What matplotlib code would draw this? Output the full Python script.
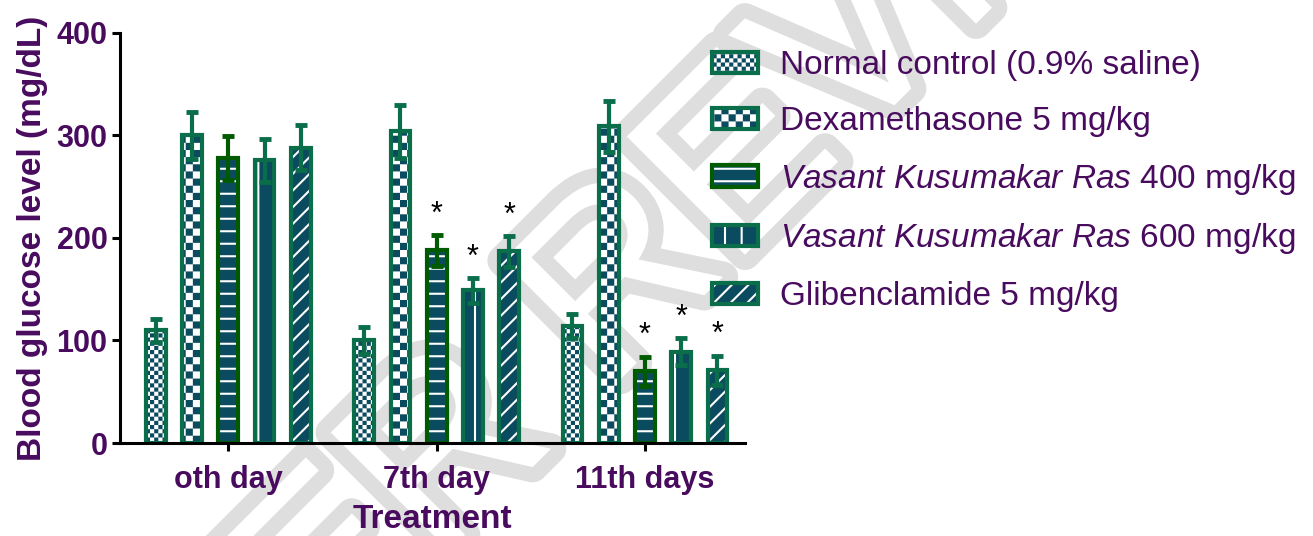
import warnings

import matplotlib

matplotlib.use("Agg")
import matplotlib.pyplot as plt
import matplotlib.patheffects as pe
from matplotlib import colors as mcolors
from matplotlib import hatch as mhatch
from matplotlib.path import Path
import numpy as np

warnings.filterwarnings("ignore")  # custom hatch letters raise a deprecation note

# ---- data ----
days = ["oth day", "7th day", "11th days"]
groups = [
    "Normal control (0.9% saline)",
    "Dexamethasone 5 mg/kg",
    r"$\mathit{Vasant\ Kusumakar\ Ras}$ 400 mg/kg",
    r"$\mathit{Vasant\ Kusumakar\ Ras}$ 600 mg/kg",
    "Glibenclamide 5 mg/kg",
]
normal_mean = [110, 100, 114]
dexa_mean = [300, 304, 309]
vkr400_mean = [278, 188, 70]
vkr600_mean = [276, 149, 89]
glib_mean = [288, 187, 71]

normal_sd = [11, 13, 12]
dexa_sd = [23, 26, 25]
vkr400_sd = [21, 15, 14]
vkr600_sd = [21, 12, 13]
glib_sd = [22, 15, 14]

# significance markers (*) per group and day
normal_sig = [0, 0, 0]
dexa_sig = [0, 0, 0]
vkr400_sig = [0, 1, 1]
vkr600_sig = [0, 1, 1]
glib_sig = [0, 1, 1]

means = [normal_mean, dexa_mean, vkr400_mean, vkr600_mean, glib_mean]
sds = [normal_sd, dexa_sd, vkr400_sd, vkr600_sd, glib_sd]
sigs = [normal_sig, dexa_sig, vkr400_sig, vkr600_sig, glib_sig]

# ---- style ----
PURPLE = "#480b5e"
TEAL = "#0b4b5f"
GREEN = "#0a6e4b"
DKGREEN = "#005a00"
edge_colors = [GREEN, GREEN, DKGREEN, GREEN, GREEN]
hatches = ["c", "k", "h", "|", "//"]

HATCH_LW = 1.5  # pt

plt.rcParams["font.family"] = "Liberation Sans"
plt.rcParams["mathtext.fontset"] = "custom"
plt.rcParams["mathtext.rm"] = "Liberation Sans"
plt.rcParams["mathtext.it"] = "Liberation Sans:italic"
plt.rcParams["hatch.color"] = "white"
plt.rcParams["hatch.linewidth"] = HATCH_LW


class _ExtraHatch(mhatch.HatchPatternBase):
    """'c' fine checks, 'k' coarse checks, 'h' horizontal lines (8 per inch)."""

    def __init__(self, hatch, density):
        self.kind = None
        self.n = 0
        if "c" in hatch:
            self.kind, self.n = "checks", 24
        elif "k" in hatch:
            self.kind, self.n = "checks", 14
        elif "h" in hatch:
            self.kind, self.n = "hlines", 8
        if self.kind == "checks":
            self.num_vertices = (self.n * self.n // 2) * 5
        elif self.kind == "hlines":
            self.num_vertices = self.n * 2
        else:
            self.num_vertices = 0

    def set_vertices_and_codes(self, vertices, codes):
        n = self.n
        if self.kind == "hlines":
            ys = (np.arange(n) + 0.5) / n
            vertices[0::2, 0] = 0.0
            vertices[1::2, 0] = 1.0
            vertices[0::2, 1] = ys
            vertices[1::2, 1] = ys
            codes[0::2] = Path.MOVETO
            codes[1::2] = Path.LINETO
            return
        lw = HATCH_LW / 72.0  # stroke width in hatch units (1 unit = 72 pt)
        s = 1.0 / n - lw
        k = 0
        for i in range(n):
            for j in range(n):
                if (i + j) % 2:
                    continue
                x0 = i / n + lw / 2
                y0 = j / n + lw / 2
                vertices[k:k + 5] = [(x0, y0), (x0 + s, y0), (x0 + s, y0 + s),
                                     (x0, y0 + s), (x0, y0)]
                codes[k:k + 5] = [Path.MOVETO, Path.LINETO, Path.LINETO,
                                  Path.LINETO, Path.CLOSEPOLY]
                k += 5


mhatch._hatch_types.append(_ExtraHatch)

fig = plt.figure(figsize=(13.13, 5.36), dpi=100)
ax = fig.add_axes([0.0914, 0.1735, 0.476, 0.765])
ax.set_facecolor("none")

# watermark behind everything
fig.text(0.49, 0.5, "PEER REVIEW", fontsize=175, rotation=45,
         ha="center", va="center", color="white", zorder=-1,
         path_effects=[pe.Stroke(linewidth=22, foreground="#dedede"), pe.Normal()])

x = np.arange(len(days))
step = 0.174
width = 0.095
white = mcolors.to_rgba("white")
handles = []
for i, (m, s, sg) in enumerate(zip(means, sds, sigs)):
    xs = x + (i - 2) * step
    bars = ax.bar(xs, m, width, color=TEAL, edgecolor=edge_colors[i],
                  linewidth=3, hatch=hatches[i], zorder=2, label=groups[i])
    for p in bars:
        p._hatch_color = white  # edgecolor would otherwise tint the hatch
    handles.append(bars)
    ax.errorbar(xs, m, yerr=s, fmt="none", ecolor=edge_colors[i],
                elinewidth=3, capsize=4.3, capthick=3.5, zorder=3)
    for xi, mi, si, flag in zip(xs, m, s, sg):
        if flag:
            ax.text(xi, mi + si + 20, "*", ha="center", va="center",
                    fontsize=22, color="black")

ax.set_xlim(-0.52, 2.48)
ax.set_ylim(0, 400)
ax.set_yticks([0, 100, 200, 300, 400])
ax.set_xticks(x)
ax.set_xticklabels(days)
for side in ("top", "right"):
    ax.spines[side].set_visible(False)
for side in ("left", "bottom"):
    ax.spines[side].set_linewidth(2.2)
ax.tick_params(axis="both", width=2.2, length=6, labelsize=22,
               labelcolor=PURPLE, direction="out")
ax.tick_params(axis="y", pad=3)
ax.tick_params(axis="x", pad=10)
for lab in ax.get_xticklabels() + ax.get_yticklabels():
    lab.set_fontweight("bold")

ax.set_ylabel("Blood glucose level (mg/dL)", fontsize=24, fontweight="bold",
              color=PURPLE, labelpad=6)
ax.set_xlabel("Treatment", fontsize=24, fontweight="bold", color=PURPLE,
              labelpad=6)

leg = fig.legend(handles=handles, loc="upper left",
                 bbox_to_anchor=(712 / 1313, 0.906), frameon=False, fontsize=24,
                 labelcolor=PURPLE, handlelength=1.38, handleheight=0.6,
                 handletextpad=0.66, labelspacing=0.74, borderpad=0,
                 borderaxespad=0)
for h in leg.legend_handles:
    h._hatch_color = white

fig.savefig("out.png", dpi=100)
